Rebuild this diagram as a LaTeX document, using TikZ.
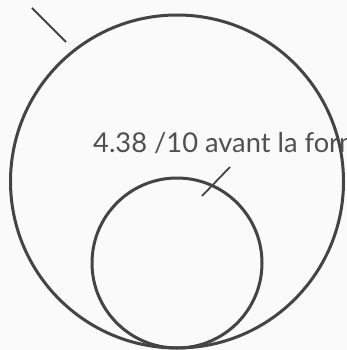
\documentclass[tikz,border=0pt]{standalone}
\usepackage{fontspec}
\setmainfont{Lato}
\definecolor{bg}{HTML}{FAFAFA}
\definecolor{ink}{HTML}{444444}
\definecolor{txt}{HTML}{505050}
\begin{document}
\begin{tikzpicture}[x=1pt,y=-1pt,
  ring/.style={circle, draw=ink, line width=3pt, inner sep=0pt},
  leader/.style={draw=ink, line width=1.8pt},
  lbl/.style={text=txt, font=\fontsize{27.3}{31}\selectfont, inner sep=0pt, anchor=base west}]
\fill[bg] (0,0) rectangle (347,350);
\useasboundingbox (0,0) rectangle (347,350);
\clip (0,0) rectangle (347,350);
\node[ring, minimum size=333pt] (big) at (177,181.5) {};
\node[ring, minimum size=170pt] (small) at (177,263) {};
\node[lbl] (label) at (93,152) {4.38 /10 avant la formation};
\coordinate (a1) at (32,8);
\coordinate (a2) at (66,42);
\coordinate (b1) at (202,196);
\coordinate (b2) at (230,167);
\draw[leader] (a1) -- (a2);
\draw[leader] (b1) -- (b2);
\end{tikzpicture}
\end{document}
